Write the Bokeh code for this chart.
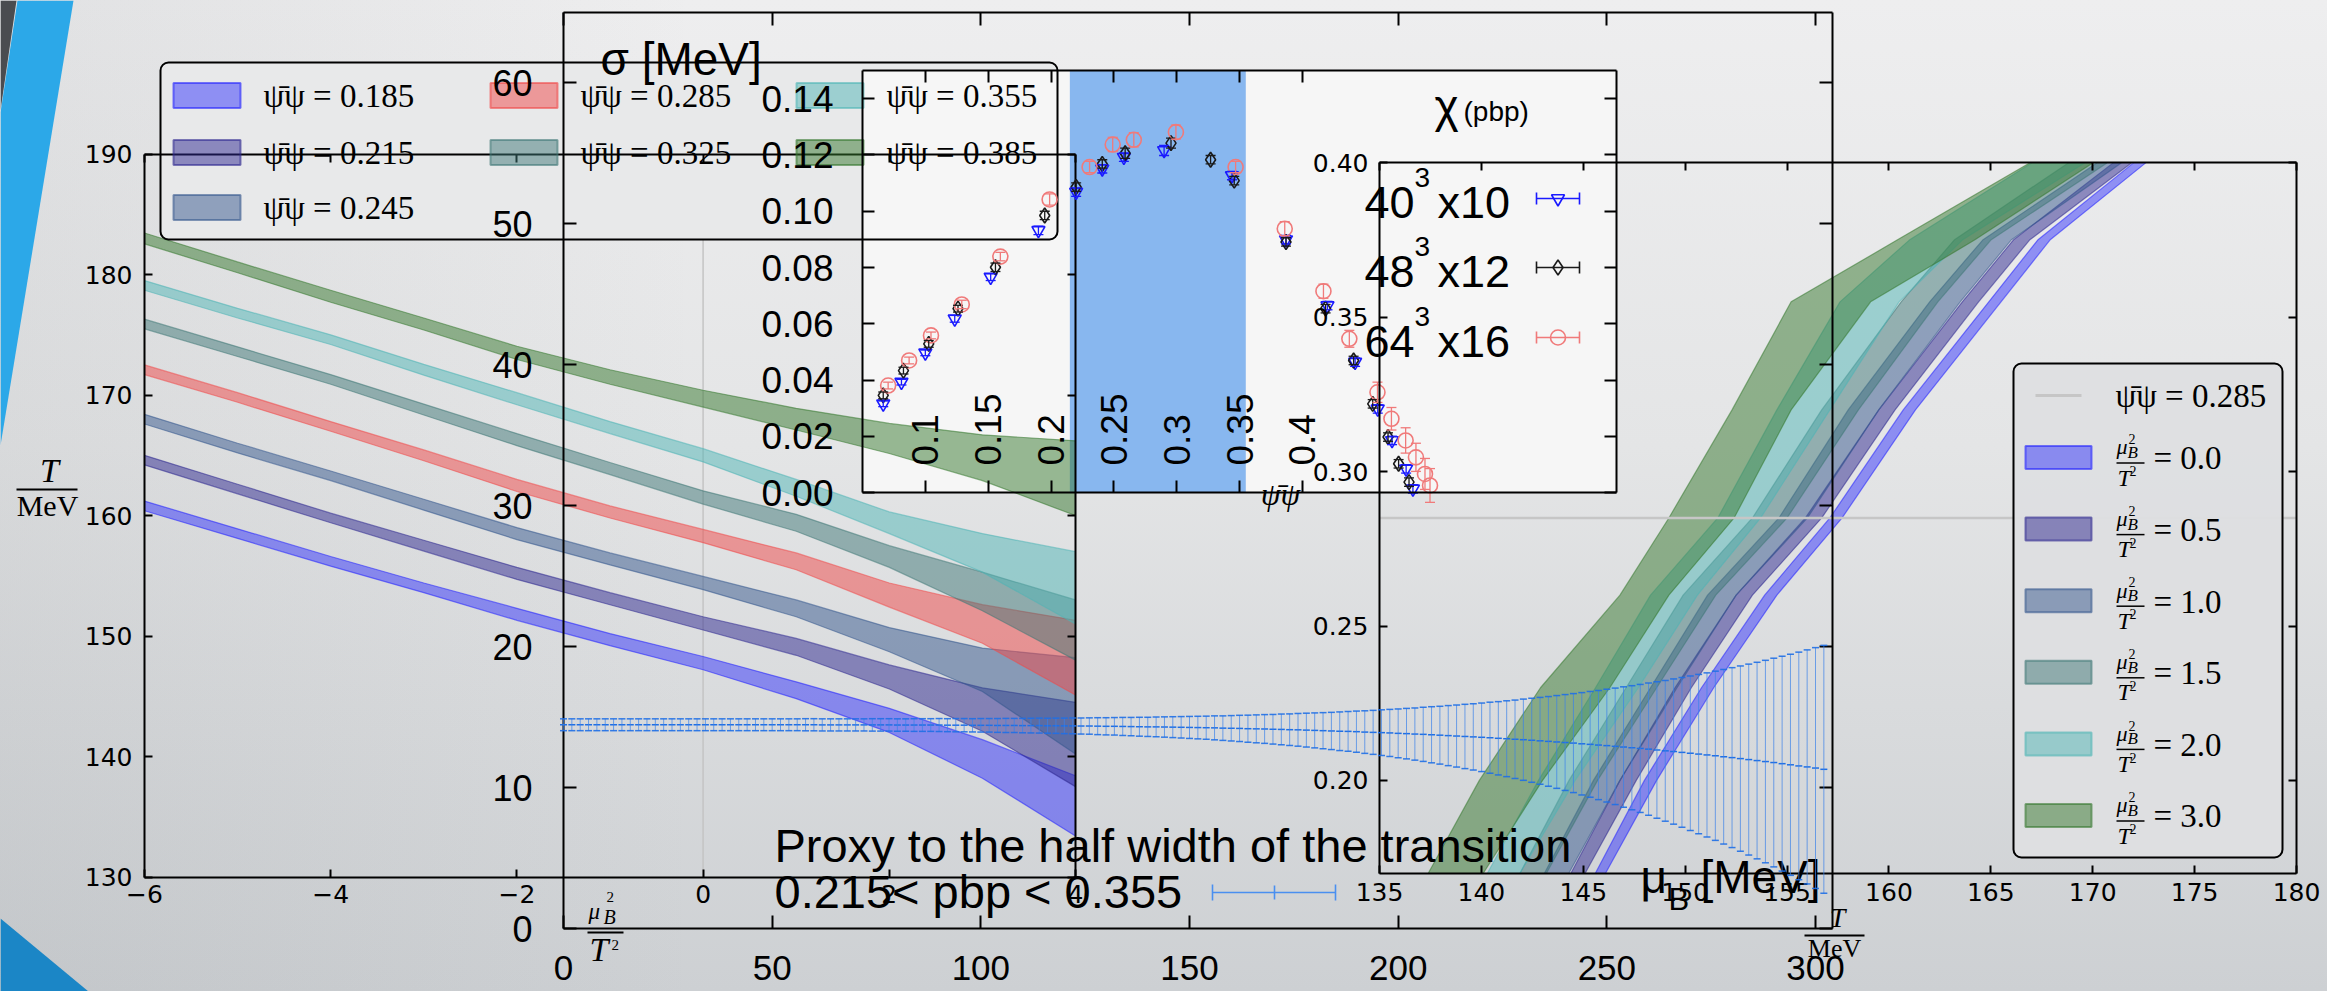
from bokeh.plotting import figure
from bokeh.models import (Range1d, LinearAxis, FixedTicker, NumeralTickFormatter,
                          ColumnDataSource, Whisker, TeeHead)
from bokeh.core.properties import value
from bokeh.embed import file_html
from bokeh.resources import INLINE

W, H = 2327, 991

# ---------------- left panel: T at fixed condensate vs mu_B^2/T^2 ----------------
mu2_grid = [-6, -5, -4, -3, -2, -1, 0, 1, 2, 3, 4]
pbp_levels = [0.185, 0.215, 0.245, 0.285, 0.325, 0.355, 0.385]
tc185_lo = [160.4, 158.1, 155.8, 153.6, 151.3, 149.2, 147.2, 144.8, 142.0, 138.2, 133.4]
tc185_hi = [161.2, 158.9, 156.6, 154.4, 152.3, 150.2, 148.3, 146.2, 144.0, 141.4, 138.4]
tc215_lo = [164.2, 161.8, 159.4, 157.05, 154.7, 152.6, 150.5, 148.4, 145.6, 142.1, 137.5]
tc215_hi = [165.0, 162.6, 160.2, 157.95, 155.7, 153.6, 151.6, 149.8, 147.6, 145.7, 144.5]
tc245_lo = [167.6, 165.2, 162.9, 160.45, 158.0, 155.9, 153.85, 151.6, 148.7, 145.4, 140.2]
tc245_hi = [168.4, 166.0, 163.7, 161.35, 159.0, 156.9, 154.95, 153.0, 150.7, 149.0, 148.2]
tc285_lo = [171.7, 169.4, 167.0, 164.55, 162.0, 159.8, 157.75, 155.5, 152.4, 149.4, 145.1]
tc285_hi = [172.5, 170.2, 167.8, 165.45, 163.0, 160.8, 158.85, 156.9, 154.4, 152.6, 151.3]
tc325_lo = [175.5, 173.2, 170.9, 168.35, 165.8, 163.4, 160.95, 158.7, 155.7, 152.1, 148.0]
tc325_hi = [176.3, 174.0, 171.7, 169.25, 166.8, 164.4, 162.05, 160.1, 157.5, 155.3, 153.0]
tc355_lo = [178.7, 176.4, 174.2, 171.65, 169.2, 166.8, 164.45, 161.6, 158.5, 155.3, 151.0]
tc355_hi = [179.5, 177.2, 175.0, 172.55, 170.2, 167.8, 165.55, 163.0, 160.3, 158.5, 157.0]
tc385_lo = [182.55, 180.15, 177.7, 175.4, 172.95, 170.9, 169.0, 167.1, 165.15, 162.9, 160.0]
tc385_hi = [183.45, 181.05, 178.7, 176.4, 174.05, 172.1, 170.4, 168.9, 167.65, 166.7, 166.2]
left_bands = [(tc185_lo, tc185_hi), (tc215_lo, tc215_hi), (tc245_lo, tc245_hi),
              (tc285_lo, tc285_hi), (tc325_lo, tc325_hi), (tc355_lo, tc355_hi),
              (tc385_lo, tc385_hi)]
left_colors = ["#2222ff", "#2e2890", "#35588e", "#f04848", "#3f7877", "#4fb5b6", "#35782e"]
left_alpha = [0.45, 0.5, 0.5, 0.5, 0.5, 0.5, 0.5]
left_T_ticks = [130, 140, 150, 160, 170, 180, 190]
left_mu2_ticks = [-6, -4, -2, 0, 2, 4]

# ---------------- right panel: condensate vs T at fixed mu_B^2/T^2 ----------------
pbp_grid = [0.17, 0.20, 0.23, 0.26, 0.285, 0.32, 0.355, 0.375, 0.40]
mu2_levels = [0.0, 0.5, 1.0, 1.5, 2.0, 3.0]
r00_lo = [145.6, 148.0, 150.8, 153.9, 157.1, 160.7, 164.9, 167.3, 172.0]
r00_hi = [146.1, 148.6, 151.4, 154.5, 157.7, 161.3, 165.5, 167.9, 172.6]
r05_lo = [144.4, 146.8, 149.5, 152.5, 155.9, 159.5, 163.6, 166.1, 171.0]
r05_hi = [145.1, 147.6, 150.3, 153.3, 156.7, 160.3, 164.4, 166.9, 171.9]
r10_lo = [143.1, 145.5, 148.3, 151.1, 154.6, 158.0, 162.0, 164.6, 170.2]
r10_hi = [144.3, 146.8, 149.6, 152.5, 156.0, 159.5, 163.5, 166.0, 171.4]
r15_lo = [141.9, 144.3, 147.1, 149.9, 153.3, 156.7, 160.6, 163.2, 168.8]
r15_hi = [143.2, 145.7, 148.6, 151.5, 155.0, 158.5, 162.4, 165.0, 170.7]
r20_lo = [140.3, 142.8, 145.6, 148.3, 151.6, 154.5, 157.6, 161.0, 167.0]
r20_hi = [141.9, 144.6, 147.7, 150.6, 153.7, 157.1, 160.5, 163.6, 169.6]
r30_lo = [137.4, 139.9, 142.9, 146.8, 149.2, 152.3, 155.2, 160.4, 166.9]
r30_hi = [140.1, 143.0, 146.3, 149.2, 152.4, 155.2, 159.1, 164.2, 170.0]
right_bands = [(r00_lo, r00_hi), (r05_lo, r05_hi), (r10_lo, r10_hi),
               (r15_lo, r15_hi), (r20_lo, r20_hi), (r30_lo, r30_hi)]
right_colors = ["#2222ff", "#2e2890", "#35588e", "#3f7877", "#4fb5b6", "#35782e"]
right_alpha = [0.45, 0.5, 0.5, 0.5, 0.5, 0.5]
pbp_ref = 0.285
right_T_ticks = [135, 140, 145, 150, 155, 160, 165, 170, 175, 180]
right_pbp_ticks = [0.20, 0.25, 0.30, 0.35, 0.40]

# ---------------- inset: chiral susceptibility ----------------
pbp_40 = [0.0665, 0.081, 0.100, 0.1234, 0.152, 0.190, 0.220, 0.2408, 0.258, 0.290,
          0.344, 0.387, 0.420, 0.442, 0.460, 0.4714, 0.4826, 0.488]
chi_40 = [0.0316, 0.0393, 0.0497, 0.0618, 0.0766, 0.0932, 0.1068, 0.1151, 0.1192, 0.1216,
          0.1127, 0.0899, 0.0665, 0.0464, 0.0298, 0.0186, 0.0085, 0.0014]
err_40 = [0.0010, 0.0010, 0.0010, 0.0012, 0.0012, 0.0015, 0.0015, 0.0015, 0.0015, 0.0018,
          0.0015, 0.0015, 0.0015, 0.0015, 0.0015, 0.0015, 0.0015, 0.0015]
pbp_48 = [0.0665, 0.0826, 0.1027, 0.126, 0.1558, 0.195, 0.220, 0.2408, 0.259, 0.2955,
          0.327, 0.3458, 0.387, 0.4185, 0.4408, 0.456, 0.4682, 0.4766, 0.4849]
chi_48 = [0.0346, 0.0434, 0.0529, 0.0654, 0.0801, 0.0985, 0.1086, 0.1168, 0.1206, 0.1242,
          0.1183, 0.1109, 0.0891, 0.0654, 0.0470, 0.0316, 0.0198, 0.0103, 0.0038]
err_48 = [0.0012, 0.0012, 0.0012, 0.0012, 0.0015, 0.0015, 0.0015, 0.0015, 0.0018, 0.0018,
          0.0015, 0.0015, 0.0015, 0.0015, 0.0015, 0.0015, 0.0015, 0.0015, 0.0015]
pbp_64 = [0.0704, 0.0871, 0.1045, 0.129, 0.1597, 0.1989, 0.2307, 0.2491, 0.2659, 0.2994,
          0.3469, 0.386, 0.4168, 0.4374, 0.4598, 0.4709, 0.4822, 0.4904, 0.4976, 0.5016]
chi_64 = [0.0381, 0.0470, 0.0559, 0.0669, 0.0839, 0.1042, 0.1157, 0.1237, 0.1254, 0.1281,
          0.1157, 0.0938, 0.0716, 0.0547, 0.0357, 0.0263, 0.0186, 0.0126, 0.0067, 0.0026]
err_64 = [0.0012, 0.0012, 0.0012, 0.0015, 0.0015, 0.0020, 0.0020, 0.0025, 0.0025, 0.0025,
          0.0020, 0.0025, 0.0025, 0.0030, 0.0036, 0.0040, 0.0045, 0.0050, 0.0055, 0.0060]
pbp_window = [0.215, 0.355]
chi_ticks = [0.00, 0.02, 0.04, 0.06, 0.08, 0.10, 0.12, 0.14]
chi_pbp_ticks = [0.1, 0.15, 0.2, 0.25, 0.3, 0.35, 0.4]

# ---------------- middle panel: half-width proxy sigma(mu_B) ----------------
mu_B = [0, 2, 4, 6, 8, 10, 12, 14, 16, 18,
        20, 22, 24, 26, 28, 30, 32, 34, 36, 38,
        40, 42, 44, 46, 48, 50, 52, 54, 56, 58,
        60, 62, 64, 66, 68, 70, 72, 74, 76, 78,
        80, 82, 84, 86, 88, 90, 92, 94, 96, 98,
        100, 102, 104, 106, 108, 110, 112, 114, 116, 118,
        120, 122, 124, 126, 128, 130, 132, 134, 136, 138,
        140, 142, 144, 146, 148, 150, 152, 154, 156, 158,
        160, 162, 164, 166, 168, 170, 172, 174, 176, 178,
        180, 182, 184, 186, 188, 190, 192, 194, 196, 198,
        200, 202, 204, 206, 208, 210, 212, 214, 216, 218,
        220, 222, 224, 226, 228, 230, 232, 234, 236, 238,
        240, 242, 244, 246, 248, 250, 252, 254, 256, 258,
        260, 262, 264, 266, 268, 270, 272, 274, 276, 278,
        280, 282, 284, 286, 288, 290, 292, 294, 296, 298,
        300, 302]
sigma_c = [14.45, 14.45, 14.45, 14.45, 14.45, 14.45, 14.45, 14.45, 14.45, 14.45,
           14.45, 14.45, 14.45, 14.45, 14.45, 14.45, 14.45, 14.45, 14.45, 14.45,
           14.45, 14.45, 14.45, 14.45, 14.45, 14.45, 14.45, 14.45, 14.45, 14.45,
           14.45, 14.44, 14.44, 14.44, 14.44, 14.44, 14.44, 14.44, 14.44, 14.44,
           14.43, 14.43, 14.43, 14.43, 14.43, 14.43, 14.42, 14.42, 14.42, 14.41,
           14.41, 14.41, 14.40, 14.40, 14.40, 14.39, 14.39, 14.39, 14.38, 14.38,
           14.37, 14.37, 14.36, 14.36, 14.35, 14.34, 14.34, 14.33, 14.32, 14.31,
           14.30, 14.30, 14.29, 14.28, 14.27, 14.26, 14.25, 14.24, 14.23, 14.21,
           14.20, 14.19, 14.17, 14.16, 14.15, 14.13, 14.12, 14.10, 14.09, 14.07,
           14.05, 14.03, 14.01, 13.99, 13.98, 13.96, 13.93, 13.91, 13.89, 13.87,
           13.84, 13.82, 13.79, 13.77, 13.74, 13.71, 13.68, 13.65, 13.62, 13.59,
           13.56, 13.53, 13.49, 13.46, 13.42, 13.39, 13.35, 13.31, 13.27, 13.23,
           13.19, 13.15, 13.10, 13.06, 13.01, 12.97, 12.92, 12.87, 12.82, 12.77,
           12.72, 12.66, 12.60, 12.55, 12.49, 12.43, 12.37, 12.31, 12.25, 12.18,
           12.12, 12.05, 11.98, 11.91, 11.84, 11.77, 11.69, 11.61, 11.53, 11.46,
           11.38, 11.29]
sigma_err = [0.42, 0.42, 0.42, 0.42, 0.42, 0.42, 0.42, 0.42, 0.42, 0.42,
             0.42, 0.42, 0.42, 0.42, 0.42, 0.42, 0.42, 0.42, 0.42, 0.42,
             0.42, 0.42, 0.42, 0.42, 0.42, 0.42, 0.42, 0.42, 0.42, 0.43,
             0.43, 0.43, 0.43, 0.43, 0.43, 0.43, 0.43, 0.44, 0.44, 0.44,
             0.44, 0.44, 0.45, 0.45, 0.45, 0.46, 0.46, 0.47, 0.47, 0.47,
             0.48, 0.48, 0.49, 0.50, 0.50, 0.51, 0.52, 0.53, 0.53, 0.54,
             0.55, 0.56, 0.57, 0.58, 0.60, 0.61, 0.62, 0.64, 0.65, 0.67,
             0.68, 0.70, 0.72, 0.74, 0.76, 0.78, 0.80, 0.82, 0.85, 0.87,
             0.90, 0.93, 0.96, 0.99, 1.02, 1.05, 1.09, 1.12, 1.16, 1.20,
             1.24, 1.28, 1.32, 1.37, 1.41, 1.46, 1.51, 1.56, 1.62, 1.67,
             1.73, 1.79, 1.85, 1.92, 1.99, 2.05, 2.13, 2.20, 2.28, 2.35,
             2.43, 2.52, 2.60, 2.69, 2.78, 2.88, 2.98, 3.08, 3.18, 3.29,
             3.40, 3.51, 3.63, 3.75, 3.87, 4.00, 4.13, 4.27, 4.40, 4.54,
             4.69, 4.84, 4.99, 5.15, 5.31, 5.48, 5.65, 5.82, 6.00, 6.19,
             6.38, 6.57, 6.77, 6.97, 7.18, 7.40, 7.62, 7.84, 8.07, 8.30,
             8.54, 8.79]
sigma_ticks = [0, 10, 20, 30, 40, 50, 60]
muB_ticks = [0, 50, 100, 150, 200, 250, 300]

# panel limits (data units)
L_x, L_y = (-6, 4), (130, 190)
S_x, S_y = (0, 304), (0, 65)
I_x, I_y = (0.05, 0.65), (0.0, 0.15)
R_x, R_y = (135, 180), (0.17, 0.40)


def xrange_for(v0, v1, px0, px1):
    u = (v1 - v0) / (px1 - px0)
    return Range1d(start=v0 - px0 * u, end=v0 + (W - px0) * u)


def yrange_for(v0, v1, py0, py1):
    # v0 sits on screen row py0, v1 on row py1 (rows counted from the top)
    u = (v1 - v0) / (py0 - py1)
    return Range1d(start=v0 - (H - py0) * u, end=v0 + py0 * u)


def row_value(row, v0, v1, py0, py1):
    return v0 + (py0 - row) * (v1 - v0) / (py0 - py1)


p = figure(width=W, height=H, x_range=Range1d(0, W), y_range=Range1d(H, 0),
           output_backend="svg", toolbar_location=None, min_border=0,
           x_axis_type=None, y_axis_type=None, outline_line_color=None,
           background_fill_color=None, border_fill_color=None, title=None)
p.styles = {"background": "linear-gradient(90deg, rgba(110,116,122,0.10) 0%, "
                          "rgba(110,116,122,0) 30%), linear-gradient(180deg, #eeeeef 0%, "
                          "#e4e5e6 45%, #cdd0d3 100%)"}

p.extra_x_ranges = {"Lx": xrange_for(L_x[0], L_x[1], 144, 1075),
                    "Sx": xrange_for(0, 300, 563, 1815),
                    "Ix": xrange_for(I_x[0], I_x[1], 862, 1616),
                    "Rx": xrange_for(R_x[0], R_x[1], 1379, 2296)}
p.extra_y_ranges = {"Ly": yrange_for(L_y[0], L_y[1], 876.5, 153.6),
                    "Sy": yrange_for(S_y[0], S_y[1], 928, 11.5),
                    "Iy": yrange_for(I_y[0], I_y[1], 492.3, 70),
                    "Ry": yrange_for(R_y[0], R_y[1], 872.5, 162.4)}

LR = dict(x_range_name="Lx", y_range_name="Ly")
SR = dict(x_range_name="Sx", y_range_name="Sy")
IR = dict(x_range_name="Ix", y_range_name="Iy")
RR = dict(x_range_name="Rx", y_range_name="Ry")


def txt(x, y, s, size, font="Liberation Sans", style="normal", align="left",
        color="black"):
    # y is the text baseline; the glyph is anchored on its middle
    p.text(x=[x], y=[y - 0.35 * size], text=[s], text_font=value(font),
           text_font_size=value(f"{size}px"), text_font_style=style, text_align=align,
           text_baseline="middle", text_color=color)


def hline(x0, x1, y, color="black", width=1.5, alpha=1.0):
    p.segment(x0=[x0], x1=[x1], y0=[y], y1=[y], line_color=color, line_width=width,
              line_alpha=alpha)


def vline(x, y0, y1, color="black", width=1.5, alpha=1.0):
    p.segment(x0=[x], x1=[x], y0=[y0], y1=[y1], line_color=color, line_width=width,
              line_alpha=alpha)


# slide decoration
p.patch(x=[0, 16, 0], y=[0, 0, 110], fill_color="#4a4c50", line_color=None, level="underlay")
p.patch(x=[17, 73, 0, 0], y=[0, 0, 445, 112], fill_color="#2ca8e8", line_color=None,
        level="underlay")
p.patch(x=[0, 88, 0], y=[918, H, H], fill_color="#1b86c6", line_color=None, level="underlay")

# left panel: mu^2/T^2 = 0 guide line
p.segment(x0=[0], x1=[0], y0=[L_y[0]], y1=[L_y[1]], line_color="#c4c4c4", line_width=1.5,
          level="underlay", **LR)

# left legend background (sits above the left panel frame)
p.quad(left=[160], right=[1057], top=[62], bottom=[239], fill_color="#e8e9ea",
       line_color=None, border_radius=8, level="underlay")

# inset background and the pbp window
p.quad(left=[I_x[0]], right=[I_x[1]], bottom=[I_y[0]], top=[I_y[1]], fill_color="#f6f6f6",
       line_color=None, level="underlay", **IR)
p.quad(left=[pbp_window[0]], right=[pbp_window[1]], bottom=[I_y[0]], top=[I_y[1]],
       fill_color="#88b7ef", line_color=None, level="underlay", **IR)

# left panel bands
for (lo, hi), c, a in zip(left_bands, left_colors, left_alpha):
    p.varea(x=mu2_grid, y1=lo, y2=hi, fill_color=c, fill_alpha=a, level="underlay", **LR)
    for edge in (lo, hi):
        p.line(mu2_grid, edge, line_color=c, line_alpha=0.55, line_width=1.2,
               level="underlay", **LR)

# right panel bands
for (lo, hi), c, a in zip(right_bands, right_colors, right_alpha):
    p.harea(y=pbp_grid, x1=lo, x2=hi, fill_color=c, fill_alpha=a, **RR)
    for edge in (lo, hi):
        p.line(edge, pbp_grid, line_color=c, line_alpha=0.55, line_width=1.2, **RR)
p.segment(x0=[R_x[0]], x1=[R_x[1]], y0=[pbp_ref], y1=[pbp_ref], line_color="#c6c6c6",
          line_width=2.5, **RR)

# right legend
p.quad(left=[2013], right=[2282], top=[363], bottom=[857], fill_color="#dedfe1",
       fill_alpha=0.97, line_color="black", line_width=2, border_radius=8)
hline(2035, 2081, 395, color="#c6c6c6", width=3)
txt(2115, 407, f"\u03c8\u0304\u03c8 = {pbp_ref:.3f}", 33, "Liberation Serif")
for k, (m, c, a) in enumerate(zip(mu2_levels, right_colors, right_alpha)):
    yc = 457 + k * 71.6
    p.quad(left=[2025], right=[2091], top=[yc - 11.5], bottom=[yc + 11.5], fill_color=c,
           fill_alpha=a, line_color=c, line_alpha=0.6, line_width=2)
    x0 = 2116
    txt(x0, yc - 3, "\u03bc", 22, "Liberation Serif", "italic")
    txt(x0 + 12, yc - 13.5, "2", 14, "Liberation Serif")
    txt(x0 + 11, yc + 1, "B", 17, "Liberation Serif", "italic")
    hline(x0, x0 + 28, yc + 5.5, width=1.5)
    txt(x0 + 1, yc + 28.5, "T", 24, "Liberation Serif", "italic")
    txt(x0 + 13, yc + 18.5, "2", 14, "Liberation Serif")
    txt(2153, yc + 12.5, f"= {m:.1f}", 33, "Liberation Serif")

# left legend frame, swatches and labels
p.quad(left=[160], right=[1057], top=[62], bottom=[239], fill_color=None,
       line_color="black", line_width=2, border_radius=8)
col_x = [173, 490, 796]
row_y = [95, 152, 207]
for i, (lev, c, a) in enumerate(zip(pbp_levels, left_colors, left_alpha)):
    col = 0 if i < 3 else (1 if i < 5 else 2)
    row = i if i < 3 else (i - 3 if i < 5 else i - 5)
    x0, yc = col_x[col], row_y[row]
    p.quad(left=[x0], right=[x0 + 67], top=[yc - 12.5], bottom=[yc + 12.5], fill_color=c,
           fill_alpha=a, line_color=c, line_alpha=0.6, line_width=2)
    txt(x0 + 90, yc + 12, f"\u03c8\u0304\u03c8 = {lev:.3f}", 33, "Liberation Serif")

# inset data
inset_series = [(pbp_40, chi_40, err_40, "#1a1aff", "inverted_triangle", 13),
                (pbp_48, chi_48, err_48, "#1a1a1a", "diamond", 15),
                (pbp_64, chi_64, err_64, "#f07a7a", "circle", 15)]
for xs, ys, es, c, mk, sz in inset_series:
    src = ColumnDataSource(dict(x=xs, y=ys, up=[v + e for v, e in zip(ys, es)],
                                lo=[v - e for v, e in zip(ys, es)]))
    p.add_layout(Whisker(source=src, base="x", upper="up", lower="lo", dimension="height",
                         line_color=c, line_width=1.3, level="glyph",
                         upper_head=TeeHead(size=10, line_color=c, line_width=1.3),
                         lower_head=TeeHead(size=10, line_color=c, line_width=1.3), **IR))
    p.scatter("x", "y", source=src, marker=mk, size=sz, fill_color=None, line_color=c,
              line_width=1.6, **IR)

# inset legend and title
inset_rows = [("40", "x10", 218), ("48", "x12", 287), ("64", "x16", 357)]
for (a, b, base), (_, _, _, c, mk, sz) in zip(inset_rows, inset_series):
    txt(1364, base, a, 45)
    txt(1414, base - 31, "3", 28)
    txt(1437, base, b, 45)
    ym = base - 20
    hline(1536, 1579, ym, color=c, width=1.6)
    vline(1536, ym - 6, ym + 6, color=c, width=1.6)
    vline(1579, ym - 6, ym + 6, color=c, width=1.6)
    p.scatter(x=[1557.5], y=[ym], marker=mk, size=sz, fill_color=None, line_color=c,
              line_width=1.6)
txt(1434, 122, "\u03c7", 46)
txt(1463, 121, "(pbp)", 28)

# middle panel: error bars for the width proxy
s_src = ColumnDataSource(dict(mu=mu_B, c=sigma_c,
                              up=[c + e for c, e in zip(sigma_c, sigma_err)],
                              lo=[c - e for c, e in zip(sigma_c, sigma_err)]))
p.add_layout(Whisker(source=s_src, base="mu", upper="up", lower="lo", dimension="height",
                     line_color="#3a82ea", line_alpha=0.7, line_width=1, level="annotation",
                     upper_head=TeeHead(size=7, line_color="#1f6fe5", line_width=1.5,
                                        line_alpha=0.9),
                     lower_head=TeeHead(size=7, line_color="#1f6fe5", line_width=1.5,
                                        line_alpha=0.9), **SR))
p.scatter("mu", "c", source=s_src, marker="dash", size=7, line_color="#1f6fe5",
          line_width=1.5, level="annotation", **SR)


# ---------------- axes ----------------
def axis(side, rng, loc, bounds, ticks, show=True, font="DejaVu Sans", size=25,
         standoff=10, tick_in=8, fmt=None, overrides=None, orient=None, line=True,
         level=None):
    ax = LinearAxis(fixed_location=loc, bounds=bounds, ticker=FixedTicker(ticks=ticks), **rng)
    if line:
        ax.axis_line_width = 2
        ax.axis_line_color = "black"
        ax.major_tick_line_color = "black"
    else:
        ax.axis_line_color = None
        ax.major_tick_line_color = None
    ax.major_tick_in = tick_in
    ax.major_tick_out = 0
    ax.major_tick_line_width = 2
    ax.minor_tick_line_color = None
    ax.major_label_standoff = standoff
    ax.major_label_text_font = font
    ax.major_label_text_font_size = f"{size}px"
    ax.major_label_text_font_style = "normal"
    ax.major_label_text_color = "black" if show else None
    if fmt:
        ax.formatter = NumeralTickFormatter(format=fmt)
    if overrides:
        ax.major_label_overrides = overrides
    if orient:
        ax.major_label_orientation = orient
    if level:
        ax.level = level
    p.add_layout(ax, side)


neg = {t: "\u2212" + str(abs(t)) for t in left_mu2_ticks if t < 0}
axis("below", LR, L_y[0], L_x, left_mu2_ticks, standoff=8, overrides=neg, level="underlay")
axis("left", LR, L_x[0], L_y, left_T_ticks, standoff=12, level="underlay")
axis("above", LR, L_y[1], L_x, left_mu2_ticks, show=False, level="underlay")
axis("right", LR, L_x[1], L_y, left_T_ticks, show=False, level="underlay")

axis("below", SR, S_y[0], S_x, muB_ticks, font="Liberation Sans", size=35, standoff=27,
     tick_in=13)
axis("left", SR, S_x[0], S_y, sigma_ticks, font="Liberation Sans", size=36, standoff=31,
     tick_in=13)
axis("above", SR, S_y[1], S_x, muB_ticks, show=False, tick_in=13)
axis("right", SR, S_x[1], S_y, sigma_ticks, show=False, tick_in=13)

axis("below", IR, I_y[0], I_x, chi_pbp_ticks, show=False, tick_in=12)
axis("left", IR, I_x[0], I_y, chi_ticks, font="Liberation Sans", size=37, standoff=29,
     tick_in=12, fmt="0.00")
axis("above", IR, I_y[1], I_x, chi_pbp_ticks, show=False, tick_in=12)
axis("right", IR, I_x[1], I_y, chi_ticks, show=False, tick_in=12)
axis("above", IR, row_value(470, I_y[0], I_y[1], 492.3, 70), I_x, chi_pbp_ticks,
     font="Liberation Sans", size=37, standoff=5, tick_in=0, line=False,
     overrides={t: f"{t:g}" for t in chi_pbp_ticks}, orient="vertical")

axis("below", RR, R_y[0], R_x, right_T_ticks, standoff=10)
axis("left", RR, R_x[0], R_y, right_pbp_ticks, standoff=11, fmt="0.00")
axis("above", RR, R_y[1], R_x, right_T_ticks, show=False)
axis("right", RR, R_x[1], R_y, right_pbp_ticks, show=False)

# ---------------- axis titles and captions ----------------
# left panel: T/MeV and mu_B^2/T^2
txt(49, 482, "T", 34, "Liberation Serif", "italic", "center")
hline(16, 77, 489, width=2)
txt(47, 515, "MeV", 30, "Liberation Serif", "normal", "center")
txt(588, 919, "\u03bc", 23, "Liberation Serif", "italic")
txt(606, 902, "2", 15, "Liberation Serif")
txt(603, 923.5, "B", 20, "Liberation Serif", "italic")
hline(587, 623, 932, width=2)
txt(589, 961, "T", 34, "Liberation Serif", "italic")
txt(611, 950, "2", 15, "Liberation Serif")

# right panel: T/MeV
txt(1837, 927, "T", 28, "Liberation Serif", "italic", "center")
hline(1804, 1864, 935, width=2)
txt(1834, 957, "MeV", 26, "Liberation Serif", "normal", "center")

# inset abscissa
txt(1280, 505, "\u03c8\u0304\u03c8", 32, "Liberation Serif", "italic", "center")

# middle panel titles and legend
txt(600, 75, "\u03c3 [MeV]", 46)
txt(1640, 893, "\u03bc", 46)
txt(1668, 910, "B", 31)
txt(1700, 893, "[MeV]", 46)
txt(774, 861, "Proxy to the half width of the transition", 47)
txt(774, 907, f"{pbp_window[0]}< pbp < {pbp_window[1]}", 47)
hline(1212, 1335, 892, color="#4a8ff0", width=1.6)
vline(1212, 884, 900, color="#4a8ff0", width=1.6)
vline(1335, 884, 900, color="#4a8ff0", width=1.6)
vline(1274, 885, 899, color="#4a8ff0", width=1.6)

open("out.html", "w").write(file_html(p, INLINE, title="Chiral transition width"))
